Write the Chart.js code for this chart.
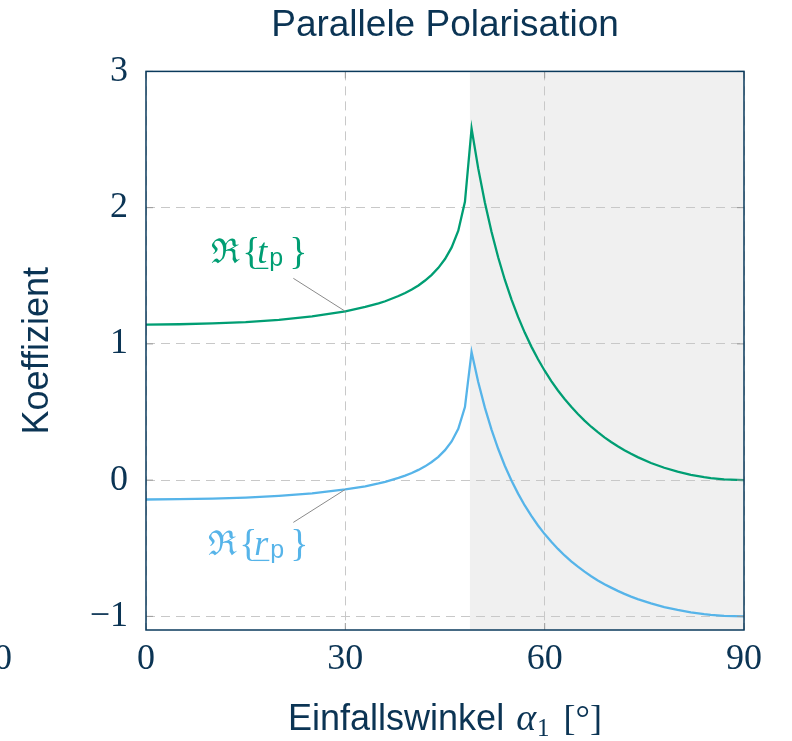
<!DOCTYPE html>
<html lang="de">

<head>
    <meta charset="UTF-8">
    <title>Parallele Polarisation</title>
    <script src="https://cdn.jsdelivr.net/npm/chart.js"></script>
    <style>
        body {
            margin: 0;
            background: #ffffff;
        }

        canvas {
            display: block;
        }
    </style>
</head>

<body>
    <canvas id="chart" width="792" height="741"></canvas>

    <script>
        // Werte
        const angles = [0, 5, 10, 15, 20, 25, 30, 33, 35, 36, 38, 39, 40, 41, 42, 43, 44, 45, 46, 47, 48, 49, 50,
            51, 52, 53, 54, 55, 56, 57, 58, 59, 60, 61, 62, 63, 64, 65, 66, 67, 68, 69, 70, 71, 72, 73, 74,
            76, 78, 80, 82, 84, 85, 87, 90];
        const reTp = [1.142, 1.144, 1.150, 1.160, 1.177, 1.202, 1.239, 1.271, 1.298, 1.313, 1.351, 1.374,
            1.399, 1.429, 1.465, 1.507, 1.558, 1.623, 1.708, 1.831, 2.043, 2.580, 2.288,
            2.038, 1.823, 1.636, 1.471, 1.327, 1.198, 1.083, 0.980, 0.887, 0.803, 0.727, 0.658, 0.595,
            0.538, 0.485, 0.437, 0.392, 0.352, 0.314, 0.280, 0.249, 0.220, 0.193, 0.169,
            0.126, 0.091, 0.062, 0.039, 0.022, 0.015, 0.005, 0.000];
        const reRp = [-0.142, -0.140, -0.136, -0.128, -0.115, -0.097, -0.068, -0.045, -0.024, -0.012, 0.016,
            0.033, 0.052, 0.075, 0.101, 0.133, 0.171, 0.220, 0.284, 0.377, 0.536, 0.940, 0.720,
            0.532, 0.371, 0.230, 0.106, -0.003, -0.099, -0.186, -0.263, -0.333, -0.396, -0.453, -0.505,
            -0.553, -0.596, -0.635, -0.672, -0.705, -0.736, -0.764, -0.789, -0.813, -0.835, -0.855,
            -0.873, -0.905, -0.932, -0.953, -0.971, -0.984, -0.989, -0.996, -1.000];
        const xTicks = [0, 30, 60, 90];
        const yTicks = [-1, 0, 1, 2, 3];
        const criticalAngle = 48.75;   // grauer Bereich (Totalreflexion)
        const labelAngle = 30;         // hier zeigen die Beschriftungen hin

        const navy = '#0b3454';
        const green = '#009e73';
        const blue = '#56b4e9';
        const serif = '"Liberation Serif", "DejaVu Serif", serif';
        const sans = '"Liberation Sans", Arial, sans-serif';

        // grauer Hintergrund ab dem Grenzwinkel
        const shadePlugin = {
            id: 'shade',
            beforeDraw(chart) {
                const { ctx, chartArea, scales } = chart;
                const x0 = scales.x.getPixelForValue(criticalAngle);
                ctx.save();
                ctx.fillStyle = '#f0f0f0';
                ctx.fillRect(x0, chartArea.top, chartArea.right - x0, chartArea.bottom - chartArea.top);
                ctx.restore();
            }
        };

        function drawReLabel(ctx, x0, base, letter, color) {
            ctx.fillStyle = color;
            ctx.strokeStyle = color;
            ctx.textAlign = 'left';
            ctx.textBaseline = 'alphabetic';
            ctx.font = '34px "DejaVu Serif", serif';
            ctx.fillText('\u211C', x0, base);
            ctx.font = '38px ' + serif;
            ctx.fillText('{', x0 + 31, base + 1);
            ctx.font = 'italic 36px ' + serif;
            ctx.fillText(letter, x0 + 46, base);
            const w = ctx.measureText(letter).width;
            ctx.lineWidth = 1.3;
            ctx.beginPath();
            ctx.moveTo(x0 + 45, base + 5);
            ctx.lineTo(x0 + 47 + w, base + 5);
            ctx.stroke();
            ctx.font = '25px ' + sans;
            const px = x0 + 48 + w;
            ctx.fillText('p', px, base + 3);
            const pw = ctx.measureText('p').width;
            ctx.font = '38px ' + serif;
            ctx.fillText('}', px + pw + 6, base + 1);
        }

        const decoPlugin = {
            id: 'deco',
            afterDraw(chart) {
                const { ctx, chartArea, scales } = chart;
                const { left, right, top, bottom } = chartArea;
                ctx.save();

                // kleine Striche nach innen
                ctx.strokeStyle = '#9a9a9a';
                ctx.lineWidth = 1;
                ctx.beginPath();
                yTicks.forEach(v => {
                    const y = scales.y.getPixelForValue(v);
                    ctx.moveTo(left, y); ctx.lineTo(left + 7, y);
                    ctx.moveTo(right, y); ctx.lineTo(right - 7, y);
                });
                xTicks.forEach(v => {
                    const x = scales.x.getPixelForValue(v);
                    ctx.moveTo(x, bottom); ctx.lineTo(x, bottom - 7);
                    ctx.moveTo(x, top); ctx.lineTo(x, top + 7);
                });
                ctx.stroke();

                // Rahmen
                ctx.strokeStyle = '#0a3a5c';
                ctx.lineWidth = 1.5;
                ctx.strokeRect(left, top, right - left, bottom - top);

                // Zeiger zu den Kurven
                const i = angles.indexOf(labelAngle);
                const ax = scales.x.getPixelForValue(labelAngle);
                const tY = scales.y.getPixelForValue(reTp[i]);
                const rY = scales.y.getPixelForValue(reRp[i]);
                ctx.strokeStyle = '#8a8a8a';
                ctx.lineWidth = 1;
                ctx.beginPath();
                ctx.moveTo(ax - 52, tY - 33); ctx.lineTo(ax, tY);
                ctx.moveTo(ax - 52, rY + 33); ctx.lineTo(ax, rY);
                ctx.stroke();

                drawReLabel(ctx, ax - 134, tY - 48, 't', green);
                drawReLabel(ctx, ax - 137, rY + 66, 'r', blue);

                // x-Achsentitel: Einfallswinkel α1 [°]
                ctx.fillStyle = navy;
                ctx.textBaseline = 'alphabetic';
                ctx.textAlign = 'left';
                const base = 730;
                const parts = [
                    { t: 'Einfallswinkel ', f: '36px ' + sans, dy: 0, gap: 2 },
                    { t: '\u03B1', f: 'italic 38px ' + serif, dy: 0, gap: 1 },
                    { t: '1', f: '25px ' + serif, dy: 6, gap: 14 },
                    { t: '[\u00B0]', f: '36px ' + serif, dy: 0, gap: 0 }
                ];
                let total = 0;
                parts.forEach(p => { ctx.font = p.f; p.w = ctx.measureText(p.t).width; total += p.w + p.gap; });
                let x = (left + right) / 2 - total / 2;
                parts.forEach(p => {
                    ctx.font = p.f;
                    ctx.fillText(p.t, x, base + p.dy);
                    x += p.w + p.gap;
                });

                // abgeschnittene 0 am linken Rand
                ctx.font = '36px ' + serif;
                ctx.textAlign = 'center';
                ctx.textBaseline = 'middle';
                ctx.fillText('0', 3, 660);

                ctx.restore();
            }
        };

        const ctx = document.getElementById('chart').getContext('2d');
        new Chart(ctx, {
            type: 'line',
            data: {
                datasets: [{
                    label: 'Re{t_p}',
                    data: angles.map((a, i) => ({ x: a, y: reTp[i] })),
                    borderColor: green,
                    borderWidth: 2.3,
                    pointRadius: 0,
                    tension: 0
                }, {
                    label: 'Re{r_p}',
                    data: angles.map((a, i) => ({ x: a, y: reRp[i] })),
                    borderColor: blue,
                    borderWidth: 2.3,
                    pointRadius: 0,
                    tension: 0
                }]
            },
            options: {
                responsive: false,
                animation: false,
                layout: {
                    padding: { left: 0, right: 48, top: 0, bottom: 51 }
                },
                plugins: {
                    legend: { display: false },
                    tooltip: { enabled: false },
                    title: {
                        display: true,
                        text: 'Parallele Polarisation',
                        color: navy,
                        fullSize: false,
                        font: { family: sans, size: 37, weight: 'normal', lineHeight: 1.2 },
                        padding: { top: 4, bottom: 23 }
                    }
                },
                scales: {
                    x: {
                        type: 'linear',
                        min: 0,
                        max: 90,
                        afterBuildTicks: s => { s.ticks = xTicks.map(v => ({ value: v })); },
                        afterFit: s => { s.height = 60; },
                        grid: { color: '#c8c8c8', lineWidth: 1, drawTicks: false, borderDash: [9, 6] },
                        border: { display: false, dash: [9, 6] },
                        ticks: {
                            color: navy,
                            padding: 8,
                            maxRotation: 0,
                            font: { family: serif, size: 36, lineHeight: 1.2 }
                        }
                    },
                    y: {
                        min: -1.1,
                        max: 3,
                        afterBuildTicks: s => { s.ticks = yTicks.map(v => ({ value: v })); },
                        afterFit: s => { s.width = 146; },
                        grid: { color: '#c8c8c8', lineWidth: 1, drawTicks: false, borderDash: [9, 6] },
                        border: { display: false, dash: [9, 6] },
                        ticks: {
                            color: navy,
                            padding: 18,
                            font: { family: serif, size: 36, lineHeight: 1.2 },
                            callback: v => (v < 0 ? '\u2212' + Math.abs(v) : String(v))
                        },
                        title: {
                            display: true,
                            text: 'Koeffizient',
                            color: navy,
                            font: { family: sans, size: 36, lineHeight: 1.2 },
                            padding: { top: 16, bottom: 0 }
                        }
                    }
                }
            },
            plugins: [shadePlugin, decoPlugin]
        });
    </script>
</body>

</html>
